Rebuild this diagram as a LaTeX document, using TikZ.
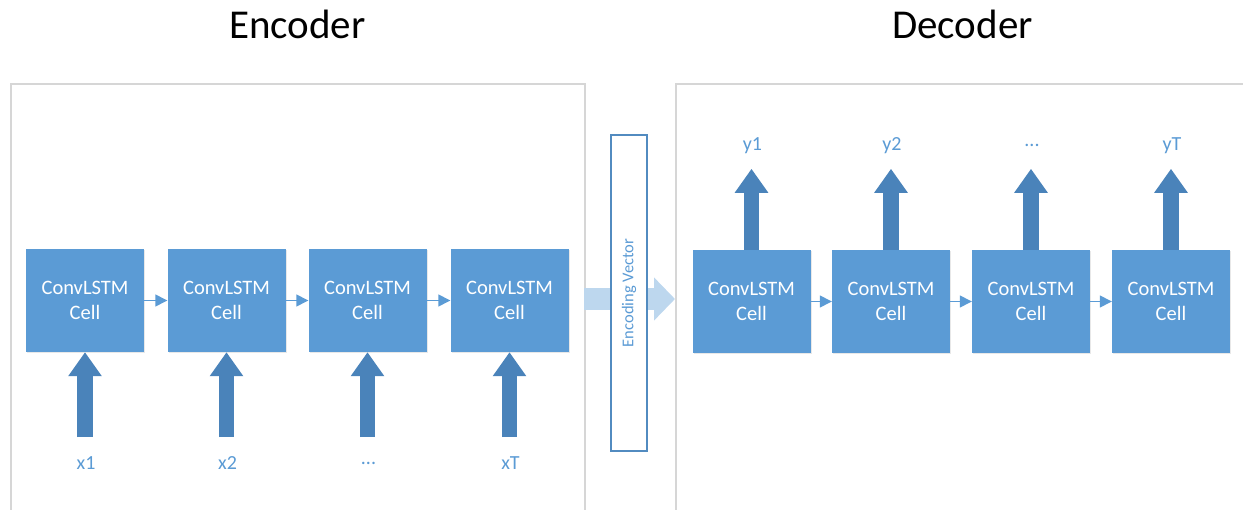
\documentclass[tikz,border=0pt]{standalone}
\usepackage{fontspec}
\setmainfont{Carlito}
\usetikzlibrary{arrows.meta,calc,shadows}

\definecolor{cellblue}{RGB}{91,155,213}
\definecolor{flowblue}{RGB}{74,131,186}
\definecolor{paleblue}{RGB}{189,215,238}
\definecolor{framegray}{RGB}{214,214,214}

\tikzset{
  frame/.style={draw=framegray, line width=1.6pt, fill=white,
    drop shadow={opacity=0.12, shadow xshift=1.5pt, shadow yshift=-1.5pt}},
  cell/.style={fill=cellblue, draw=none, minimum width=118pt, minimum height=103pt,
    inner sep=0pt, text=white, align=center,
    font=\fontsize{20.5}{25}\selectfont,
    drop shadow={opacity=0.18, shadow xshift=1pt, shadow yshift=-1.5pt}},
  seqlabel/.style={text=cellblue, font=\fontsize{20}{24}\selectfont, inner sep=0pt},
  title/.style={text=black, font=\fontsize{41}{49}\selectfont, inner sep=0pt},
  chain/.style={draw=cellblue, line width=1.4pt, -{Triangle[width=12pt,length=12pt]}},
  flow/.style={draw=flowblue, line width=15.5pt, -{Triangle[width=32pt,length=24pt]}},
  handoff/.style={draw=paleblue, line width=22pt, -{Triangle[width=42pt,length=21pt]}},
  vecbox/.style={draw=cellblue!90!black, line width=1.1pt, fill=white,
    minimum width=36pt, minimum height=316pt, inner sep=0pt},
}

\begin{document}
\begin{tikzpicture}[x=1pt, y=-1pt]
\useasboundingbox (0,0) rectangle (1243,510);
\clip (0,0) rectangle (1243,510);

% titles
\node[title, anchor=base] (enctitle) at (297.5,39) {Encoder};
\node[title, anchor=base] (dectitle) at (962.5,39) {Decoder};

% encoder and decoder frames (open at the bottom / right of the page)
\node[frame, anchor=north west, minimum width=574pt, minimum height=460pt, inner sep=0pt] (encframe) at (10,83) {};
\node[frame, anchor=north west, minimum width=600pt, minimum height=460pt, inner sep=0pt] (decframe) at (675,83) {};

% hand-off arrow from encoder to decoder, behind the vector box
\coordinate (handstart) at (584,299);
\coordinate (handend) at (675,299);
\draw[handoff] (handstart) -- (handend);

% encoding vector
\node[vecbox] (vec) at (629,293) {};
\node[rotate=90, text=cellblue, font=\fontsize{16.5}{20}\selectfont, inner sep=0pt] (vectext) at (vec.center) {Encoding Vector};

% encoder cells
\node[cell] (e1) at (85,300.5) {ConvLSTM\\Cell};
\node[cell] (e2) at (226.5,300.5) {ConvLSTM\\Cell};
\node[cell] (e3) at (367.5,300.5) {ConvLSTM\\Cell};
\node[cell] (e4) at (509.5,300.5) {ConvLSTM\\Cell};

% decoder cells
\node[cell] (d1) at (751.5,301.5) {ConvLSTM\\Cell};
\node[cell] (d2) at (891,301.5) {ConvLSTM\\Cell};
\node[cell] (d3) at (1031,301.5) {ConvLSTM\\Cell};
\node[cell] (d4) at (1171,301.5) {ConvLSTM\\Cell};

% recurrent links
\draw[chain] (e1) -- (e2);
\draw[chain] (e2) -- (e3);
\draw[chain] (e3) -- (e4);
\draw[chain] (d1) -- (d2);
\draw[chain] (d2) -- (d3);
\draw[chain] (d3) -- (d4);

% inputs
\foreach \c/\t/\n in {e1/x1/1, e2/x2/2, e3/{...}/3, e4/xT/4} {
  \node[seqlabel] (in\n) at ($(\c.south)+(1,111)$) {\t};
  \coordinate (intail\n) at ($(\c.south)+(0,85)$);
  \draw[flow] (intail\n) -- (\c.south);
}

% outputs
\foreach \c/\t/\n in {d1/y1/1, d2/y2/2, d3/{...}/3, d4/yT/4} {
  \node[seqlabel] (out\n) at ($(\c.north)+(1,-104)$) {\t};
  \coordinate (outtip\n) at ($(\c.north)+(0,-81)$);
  \draw[flow] (\c.north) -- (outtip\n);
}
\end{tikzpicture}
\end{document}
